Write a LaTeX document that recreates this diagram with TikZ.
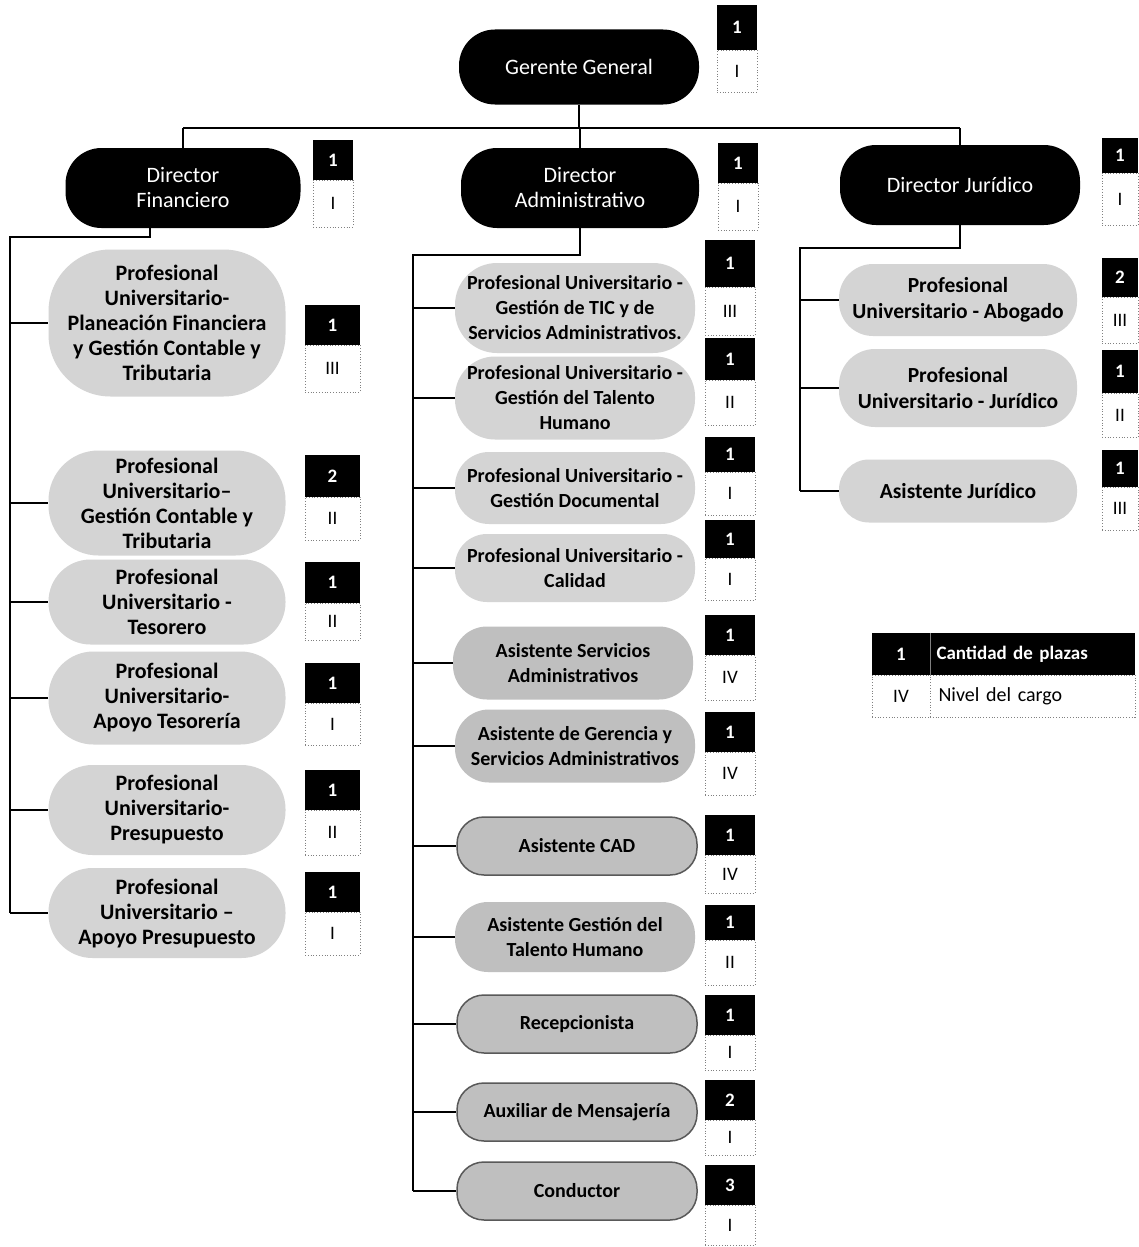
\documentclass[tikz,border=0pt]{standalone}
\usepackage{fontspec}
\setmainfont{Carlito}
\begin{document}
\definecolor{lgray}{gray}{0.83}
\definecolor{mgray}{gray}{0.75}
\definecolor{dgray}{gray}{0.35}
\tikzset{
 pill/.style={rectangle, rounded corners=#1, inner sep=0pt, align=center},
 dirbox/.style={pill=36pt, fill=black, text=white, font=\fontsize{22}{25}\selectfont},
 profbox/.style={pill=#1, fill=lgray},
 asisbox/.style={pill=#1, fill=mgray},
 outbox/.style={pill=27pt, fill=mgray, draw=dgray, line width=1.5pt},
 ffont/.style={font=\bfseries\fontsize{22}{25}\selectfont},
 afont/.style={font=\bfseries\fontsize{20}{25}\selectfont},
 jfont/.style={font=\bfseries\fontsize{21.5}{26}\selectfont},
 numbox/.style={fill=black, text=white, inner sep=0pt, font=\bfseries\fontsize{19}{19}\selectfont},
 levbox/.style={fill=white, draw=gray, dotted, line width=0.8pt, inner sep=0pt, font=\fontsize{19}{19}\selectfont},
 conn/.style={draw=black, line width=1.6pt},
}
\newcommand\mybadge[8]{%
 \node[numbox, minimum width={(#3-#2)*1pt}, minimum height={(#5-#4)*1pt}] (#1n) at ({(#2+#3)/2},{(#4+#5)/2}) {#7};
 \node[levbox, minimum width={(#3-#2)*1pt}, minimum height={(#6-#5)*1pt}] (#1l) at ({(#2+#3)/2},{(#5+#6)/2}) {#8};}
\begin{tikzpicture}[x=1pt,y=-1pt]
\useasboundingbox[fill=white] (0,0) rectangle (1138,1247);

% top
\node[dirbox, minimum width=240pt, minimum height=75pt] (gg) at (579,67) {Gerente General};
\node[dirbox, minimum width=235pt, minimum height=80pt] (df) at (183,188) {Director\\Financiero};
\node[dirbox, minimum width=238pt, minimum height=80pt] (da) at (580,188) {Director\\Administrativo};
\node[dirbox, minimum width=240pt, minimum height=80pt] (dj) at (960,185) {Director Jurídico};

% financiero
\node[profbox=62pt, ffont, minimum width=237pt, minimum height=147pt] (f1) at (167,323) {Profesional\\Universitario-\\Planeación Financiera\\y Gestión Contable y\\Tributaria};
\node[profbox=50pt, ffont, minimum width=237pt, minimum height=105pt] (f2) at (167,503) {Profesional\\Universitario–\\Gestión Contable y\\Tributaria};
\node[profbox=42pt, ffont, minimum width=237pt, minimum height=85pt] (f3) at (167,602) {Profesional\\Universitario -\\Tesorero};
\node[profbox=45pt, ffont, minimum width=237pt, minimum height=93pt] (f4) at (167,698) {Profesional\\Universitario-\\Apoyo Tesorería};
\node[profbox=44pt, ffont, minimum width=237pt, minimum height=90pt] (f5) at (167,810) {Profesional\\Universitario-\\Presupuesto};
\node[profbox=44pt, ffont, minimum width=237pt, minimum height=90pt] (f6) at (167,913) {Profesional\\Universitario –\\Apoyo Presupuesto};

% administrativo
\node[profbox=42pt, afont, minimum width=240pt, minimum height=90pt] (a1) at (575,308) {Profesional Universitario -\\Gestión de TIC y de\\Servicios Administrativos.};
\node[profbox=40pt, afont, minimum width=240pt, minimum height=83pt] (a2) at (575,398) {Profesional Universitario -\\Gestión del Talento\\Humano};
\node[profbox=34pt, afont, minimum width=240pt, minimum height=72pt] (a3) at (575,488) {Profesional Universitario -\\Gestión Documental};
\node[profbox=32pt, afont, minimum width=240pt, minimum height=68pt] (a4) at (575,568) {Profesional Universitario -\\Calidad};
\node[asisbox=34pt, afont, minimum width=240pt, minimum height=73pt] (a5) at (573,663) {Asistente Servicios\\Administrativos};
\node[asisbox=34pt, afont, minimum width=240pt, minimum height=73pt] (a6) at (575,746) {Asistente de Gerencia y\\Servicios Administrativos};
\node[outbox, afont, minimum width=240pt, minimum height=58pt] (a7) at (577,846) {Asistente CAD};
\node[asisbox=33pt, afont, minimum width=240pt, minimum height=70pt] (a8) at (575,937) {Asistente Gestión del\\Talento Humano};
\node[outbox, afont, minimum width=240pt, minimum height=58pt] (a9) at (577,1024) {Recepcionista};
\node[outbox, afont, minimum width=240pt, minimum height=58pt] (a10) at (577,1112) {Auxiliar de Mensajería};
\node[outbox, afont, minimum width=240pt, minimum height=58pt] (a11) at (577,1191) {Conductor};

% juridico
\node[profbox=34pt, jfont, minimum width=238pt, minimum height=72pt] (j1) at (958,300) {Profesional\\Universitario - Abogado};
\node[profbox=36pt, jfont, minimum width=238pt, minimum height=78pt] (j2) at (958,388) {Profesional\\Universitario - Jurídico};
\node[profbox=30pt, jfont, minimum width=238pt, minimum height=63pt] (j3) at (958,491) {Asistente Jurídico};

% badges
\mybadge{gg}{717}{757}{5}{50}{92}{1}{I}
\mybadge{df}{313}{353}{140}{180}{227}{1}{I}
\mybadge{da}{718}{758}{143}{183}{230}{1}{I}
\mybadge{dj}{1102}{1138}{138}{173}{225}{1}{I}
\mybadge{f1}{305}{360}{305}{345}{392}{1}{III}
\mybadge{f2}{305}{360}{455}{497}{540}{2}{II}
\mybadge{f3}{305}{360}{562}{603}{640}{1}{II}
\mybadge{f4}{305}{360}{663}{703}{745}{1}{I}
\mybadge{f5}{305}{360}{770}{810}{855}{1}{II}
\mybadge{f6}{305}{360}{872}{912}{955}{1}{I}
\mybadge{a1}{705}{755}{240}{287}{335}{1}{III}
\mybadge{a2}{705}{755}{338}{380}{425}{1}{II}
\mybadge{a3}{705}{755}{437}{472}{515}{1}{I}
\mybadge{a4}{705}{755}{520}{558}{600}{1}{I}
\mybadge{a5}{705}{755}{615}{655}{700}{1}{IV}
\mybadge{a6}{705}{755}{712}{752}{795}{1}{IV}
\mybadge{a7}{705}{755}{815}{855}{893}{1}{IV}
\mybadge{a8}{705}{755}{905}{940}{985}{1}{II}
\mybadge{a9}{705}{755}{995}{1035}{1070}{1}{I}
\mybadge{a10}{705}{755}{1080}{1120}{1155}{2}{I}
\mybadge{a11}{705}{755}{1165}{1205}{1245}{3}{I}
\mybadge{j1}{1102}{1138}{258}{297}{343}{2}{III}
\mybadge{j2}{1102}{1138}{350}{393}{437}{1}{II}
\mybadge{j3}{1102}{1138}{450}{487}{530}{1}{III}

% legend
\node[numbox, minimum width=58pt, minimum height=42pt] (lg1) at (901,654) {1};
\node[numbox, minimum width=205pt, minimum height=42pt, text width=192pt, align=left, font=\bfseries\fontsize{19}{19}\selectfont] (lg2) at (1032.5,654) {Cantidad de plazas};
\draw[gray, line width=0.6pt] (lg1.north east) -- (lg1.south east);
\node[levbox, minimum width=58pt, minimum height=42pt] (lg3) at (901,696) {IV};
\node[levbox, minimum width=205pt, minimum height=42pt, text width=188pt, align=left, font=\fontsize{20}{20}\selectfont] (lg4) at (1032.5,696) {Nivel del cargo};

% connectors
\coordinate (hb) at (0,128);
\draw[conn] (gg.south) -- (gg.south |- hb);
\draw[conn] (df.north |- hb) -- (dj.north |- hb);
\draw[conn] (df.north |- hb) -- (df.north);
\draw[conn] (da.north |- hb) -- (da.north);
\draw[conn] (dj.north |- hb) -- (dj.north);

\coordinate (fa) at (150,237);
\coordinate (fl) at (10,237);
\draw[conn] (fa |- df.south) -- (fa) -- (fl) -- (fl |- f6.west);
\foreach \i in {1,...,6} \draw[conn] (fl |- f\i.west) -- (f\i.west);

\coordinate (aa) at (580,255);
\coordinate (al) at (413,255);
\draw[conn] (da.south) -- (aa) -- (al) -- (al |- a11.west);
\foreach \i in {1,...,11} \draw[conn] (al |- a\i.west) -- (a\i.west);

\coordinate (ja) at (960,248);
\coordinate (jl) at (800,248);
\draw[conn] (dj.south) -- (ja) -- (jl) -- (jl |- j3.west);
\foreach \i in {1,...,3} \draw[conn] (jl |- j\i.west) -- (j\i.west);
\end{tikzpicture}
\end{document}
